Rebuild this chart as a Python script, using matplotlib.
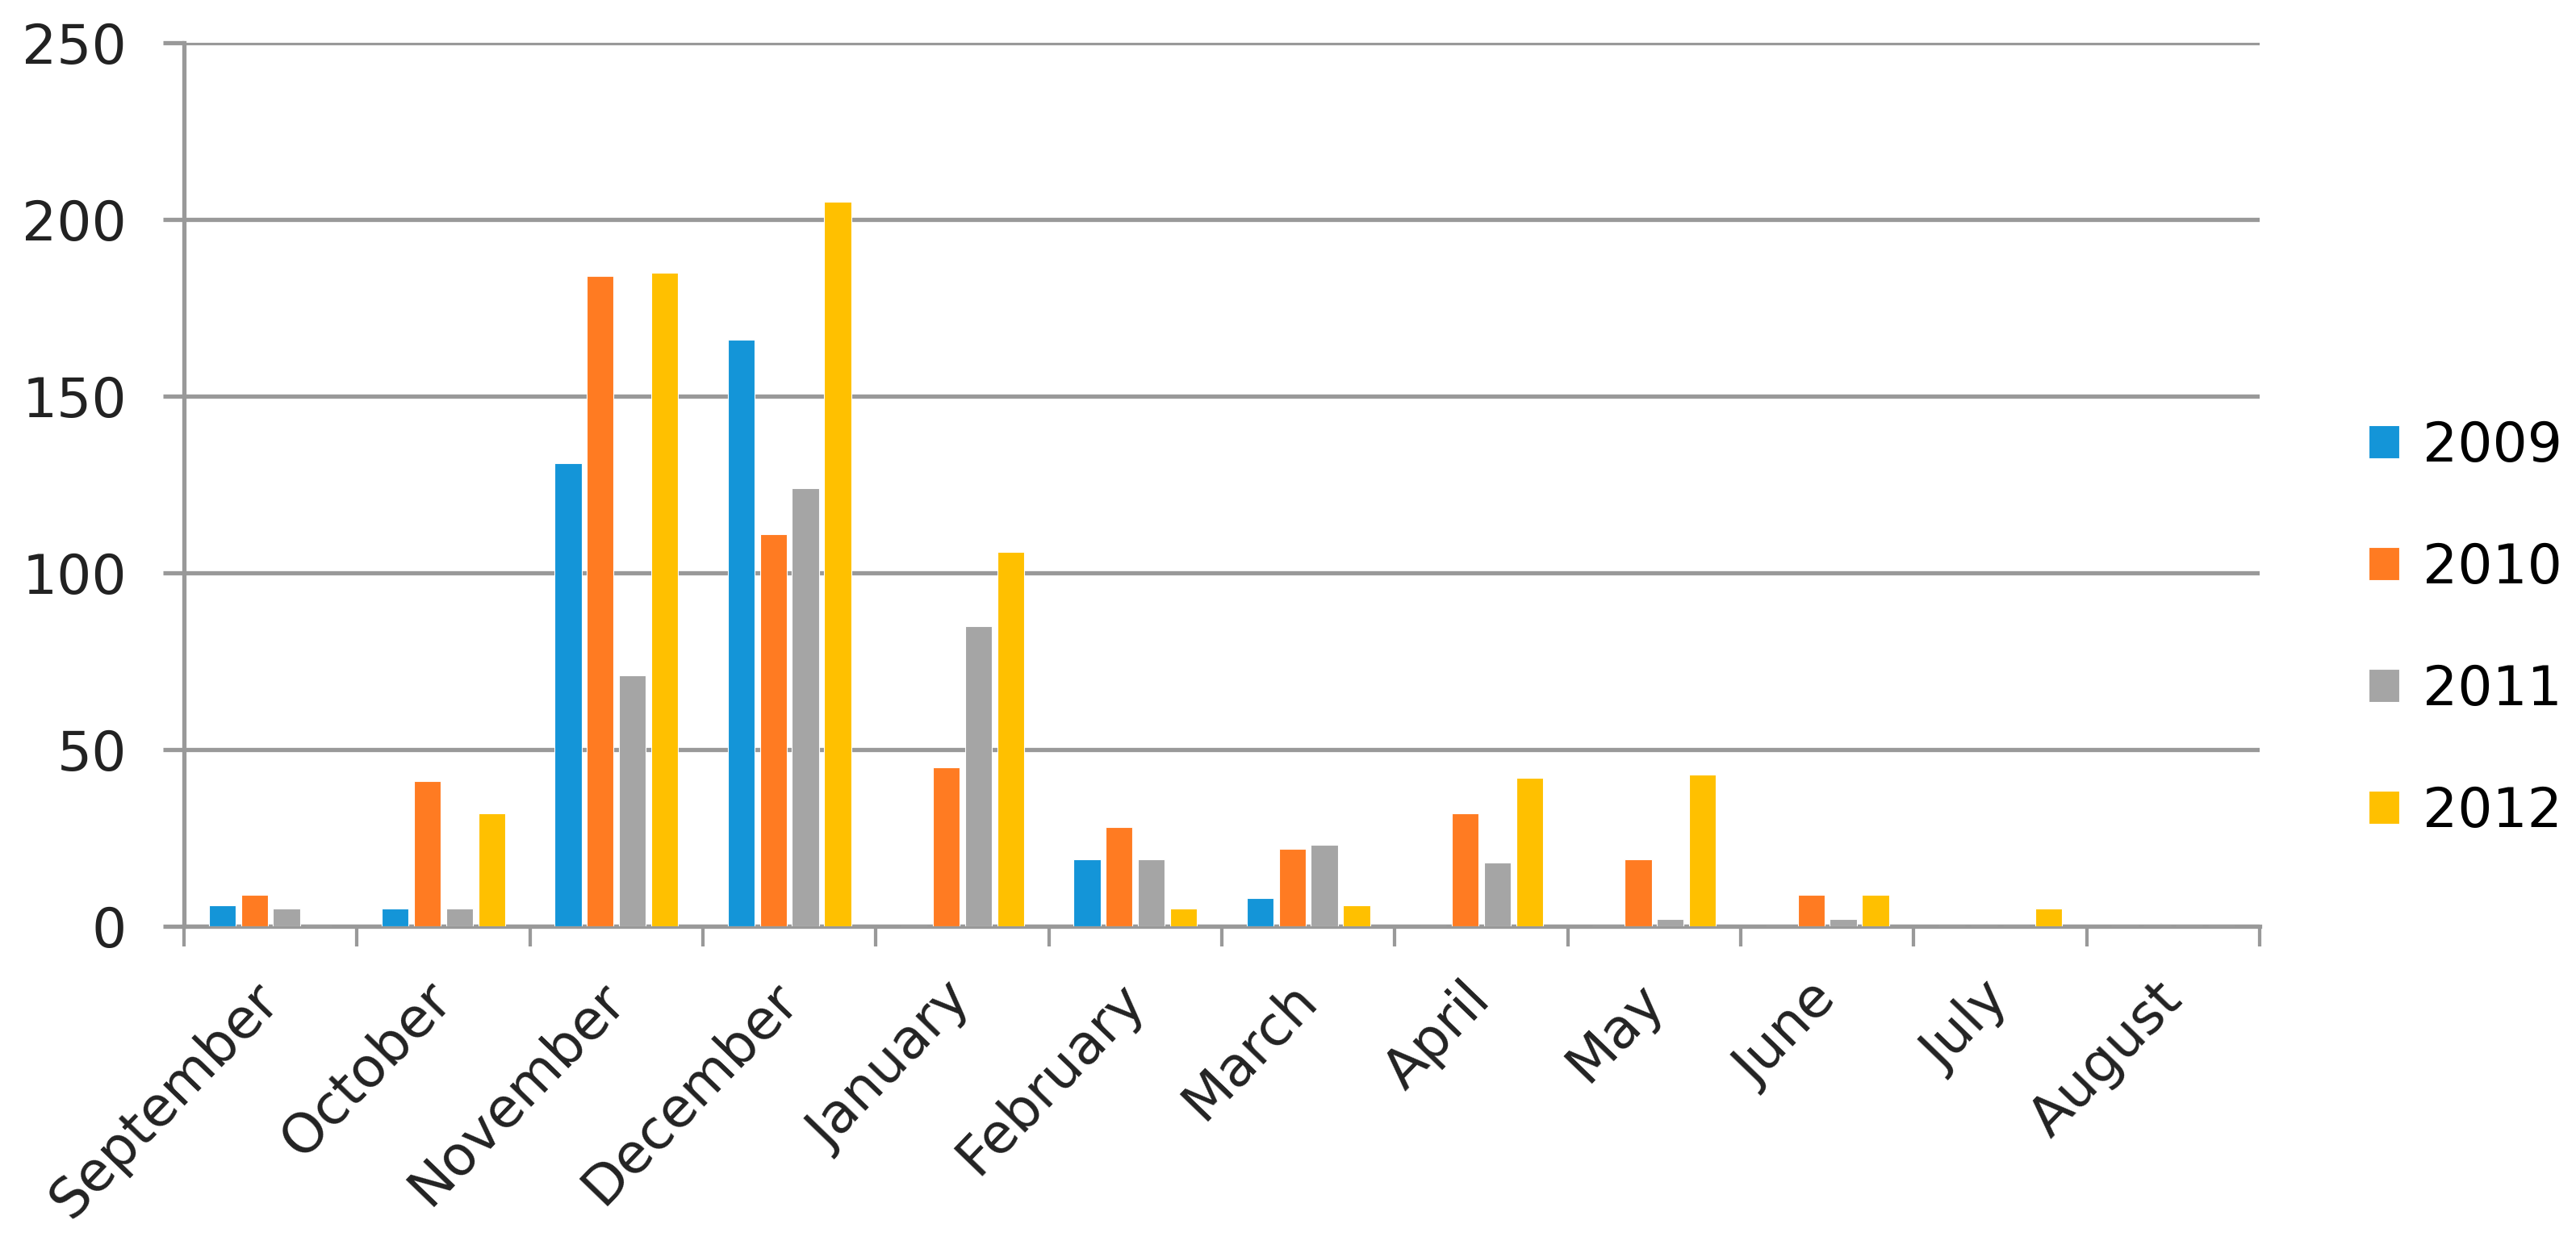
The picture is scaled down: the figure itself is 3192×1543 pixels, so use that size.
"""
Monthly counts by season year (2009-2012), grouped bar chart.
Exports out.png.
"""

import numpy as np
import matplotlib
matplotlib.use("Agg")
import matplotlib.pyplot as plt

# ── Data ────────────────────────────────────────────────────────────────────
months = ["September", "October", "November", "December", "January", "February",
          "March", "April", "May", "June", "July", "August"]
years = ["2009", "2010", "2011", "2012"]

y2009 = [6, 5, 131, 166, 0, 19, 8, 0, 0, 0, 0, 0]
y2010 = [9, 41, 184, 111, 45, 28, 22, 32, 19, 9, 0, 0]
y2011 = [5, 5, 71, 124, 85, 19, 23, 18, 2, 2, 0, 0]
y2012 = [0, 32, 185, 205, 106, 5, 6, 42, 43, 9, 5, 0]

yticks = [0, 50, 100, 150, 200, 250]

# ── Style ───────────────────────────────────────────────────────────────────
BLUE   = "#1495D8"
ORANGE = "#FF7B22"
GREY   = "#A5A5A5"
YELLOW = "#FFC000"
LINE   = "#999999"
TEXT   = "#222222"
colors = [BLUE, ORANGE, GREY, YELLOW]

FS = 49
LW = 3.8

fig = plt.figure(figsize=(31.92, 15.43), dpi=100)
fig.patch.set_facecolor("white")
ax = fig.add_axes([0.0714, 0.2560, 0.8058, 0.7097])

# ── Bars ────────────────────────────────────────────────────────────────────
x = np.arange(len(months))
pitch = 0.186
w = 0.155
series = [y2009, y2010, y2011, y2012]
for i, (vals, lab, col) in enumerate(zip(series, years, colors)):
    ax.bar(x + (i - 1.5) * pitch, vals, w, color=col, label=lab,
           edgecolor="white", linewidth=0.8, zorder=3)

# ── Axes ────────────────────────────────────────────────────────────────────
ax.set_xlim(-0.5, len(months) - 0.5)
ax.set_ylim(0, 250)
ax.set_yticks(yticks)
ax.set_yticklabels([str(v) for v in yticks], fontsize=FS, color=TEXT)
ax.yaxis.grid(True, color=LINE, linewidth=LW, zorder=0)
ax.set_axisbelow(True)

ax.set_xticks(np.arange(len(months) + 1) - 0.5)
ax.set_xticklabels([])
ax.set_xticks(x, minor=True)
ax.set_xticklabels(months, minor=True, fontsize=FS, rotation=46,
                   ha="right", va="center", rotation_mode="anchor", color=TEXT)
ax.tick_params(axis="x", which="major", length=18, width=LW * 0.8, color=LINE, direction="out")
ax.tick_params(axis="x", which="minor", length=0, pad=58)
ax.tick_params(axis="y", length=19, width=LW, color=LINE, pad=32)

for s in ["top", "right"]:
    ax.spines[s].set_visible(False)
for s in ["left", "bottom"]:
    ax.spines[s].set_color(LINE)
    ax.spines[s].set_linewidth(LW)

# ── Legend ──────────────────────────────────────────────────────────────────
fig.legend(loc="center left", bbox_to_anchor=(0.9195, 0.495), frameon=False,
           fontsize=FS, handlelength=0.56, handleheight=0.56, handletextpad=0.42,
           labelspacing=1.25, borderpad=0, borderaxespad=0)

fig.savefig("out.png", dpi=100, facecolor="white")
plt.close()
